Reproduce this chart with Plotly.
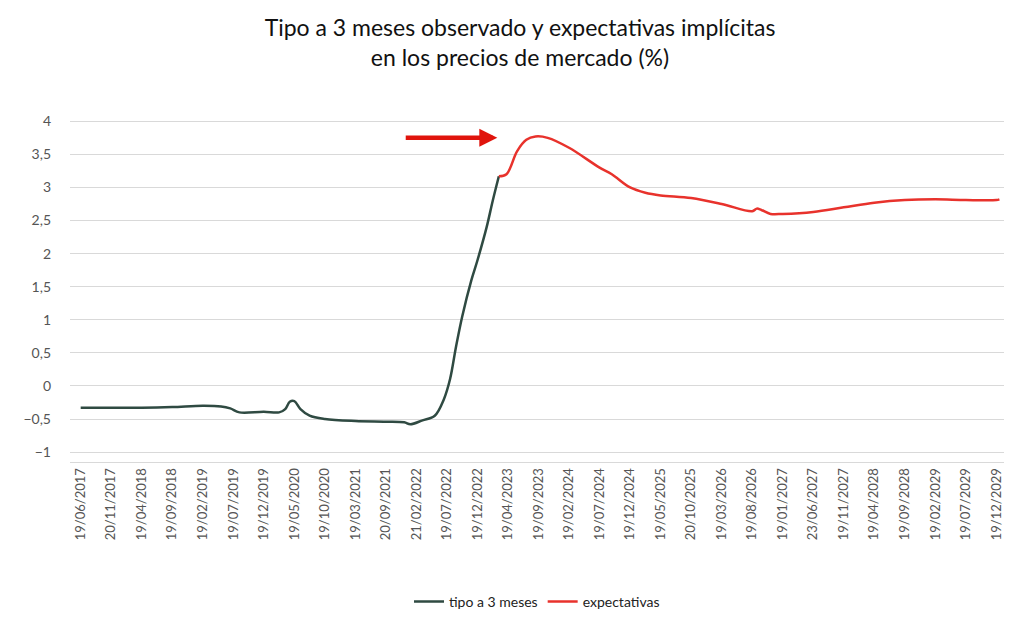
import plotly.graph_objects as go

tick_labels = ["19/06/2017","20/11/2017","19/04/2018","19/09/2018","19/02/2019","19/07/2019","19/12/2019","19/05/2020","19/10/2020","19/03/2021","20/09/2021","21/02/2022","19/07/2022","19/12/2022","19/04/2023","19/09/2023","19/02/2024","19/07/2024","19/12/2024","19/05/2025","20/10/2025","19/03/2026","19/08/2026","19/01/2027","23/06/2027","19/11/2027","19/04/2028","19/09/2028","19/02/2029","19/07/2029","19/12/2029"]

obs_x = [0,1,2,3,4,4.6,4.9,5.2,6,6.5,6.7,6.85,7,7.2,7.5,8,9,10,10.6,10.8,11.2,11.6,11.9,12.1,12.3,12.5,12.8,13,13.3,13.5,13.7]
obs_y = [-0.33,-0.33,-0.33,-0.32,-0.30,-0.31,-0.34,-0.40,-0.39,-0.40,-0.35,-0.24,-0.23,-0.35,-0.45,-0.50,-0.53,-0.54,-0.55,-0.58,-0.52,-0.45,-0.2,0.1,0.6,1.05,1.6,1.9,2.4,2.8,3.17]

exp_x = [13.7,13.95,14.3,14.6,14.9,15.3,16,17,17.4,18,18.5,19,20,21,22,22.15,22.3,22.6,23,24,25,26,27,28,29,30,30.1]
exp_y = [3.17,3.2,3.55,3.72,3.77,3.75,3.6,3.3,3.2,3.0,2.92,2.88,2.84,2.75,2.64,2.68,2.66,2.6,2.6,2.63,2.70,2.77,2.81,2.82,2.81,2.81,2.82]

fig = go.Figure()
fig.add_trace(go.Scatter(x=obs_x, y=obs_y, mode="lines", name="tipo a 3 meses",
                         line=dict(color="#2f4a42", width=2.5, shape="spline")))
fig.add_trace(go.Scatter(x=exp_x, y=exp_y, mode="lines", name="expectativas",
                         line=dict(color="#e8322c", width=2.5, shape="spline")))
fig.add_annotation(x=13.65, y=3.75, ax=10.6, ay=3.75, xref="x", yref="y", axref="x", ayref="y",
                   text="", showarrow=True, arrowhead=2, arrowsize=0.8, arrowwidth=4.5, arrowcolor="#e0140c")

fig.update_layout(
    width=1024, height=622, paper_bgcolor="white", plot_bgcolor="white",
    font=dict(family="Lato", color="#333"),
    separators=",.",
    title=dict(text="Tipo a 3 meses observado y expectativas implícitas<br>en los precios de mercado (%)",
               x=0.5, xanchor="center", y=0.955, yanchor="top", font=dict(size=23, color="#111")),
    margin=dict(l=62, r=28, t=110, b=120),
    showlegend=True,
    legend=dict(orientation="h", x=0.5, xanchor="center", y=-0.36, yanchor="top", font=dict(size=14, color="#222")),
    xaxis=dict(tickmode="array", tickvals=list(range(len(tick_labels))), ticktext=tick_labels,
               tickangle=-90, range=[-0.35, 30.25], showgrid=False, zeroline=False,
               tickfont=dict(size=13, color="#555"), showline=True, linecolor="#d9d9d9"),
    yaxis=dict(range=[-1.15, 4.05], tickvals=[-1,-0.5,0,0.5,1,1.5,2,2.5,3,3.5,4],
               gridcolor="#d9d9d9", zeroline=False, tickfont=dict(size=14, color="#555"), ticks="", ticklabelstandoff=18),
)
fig.write_html("out.html")
